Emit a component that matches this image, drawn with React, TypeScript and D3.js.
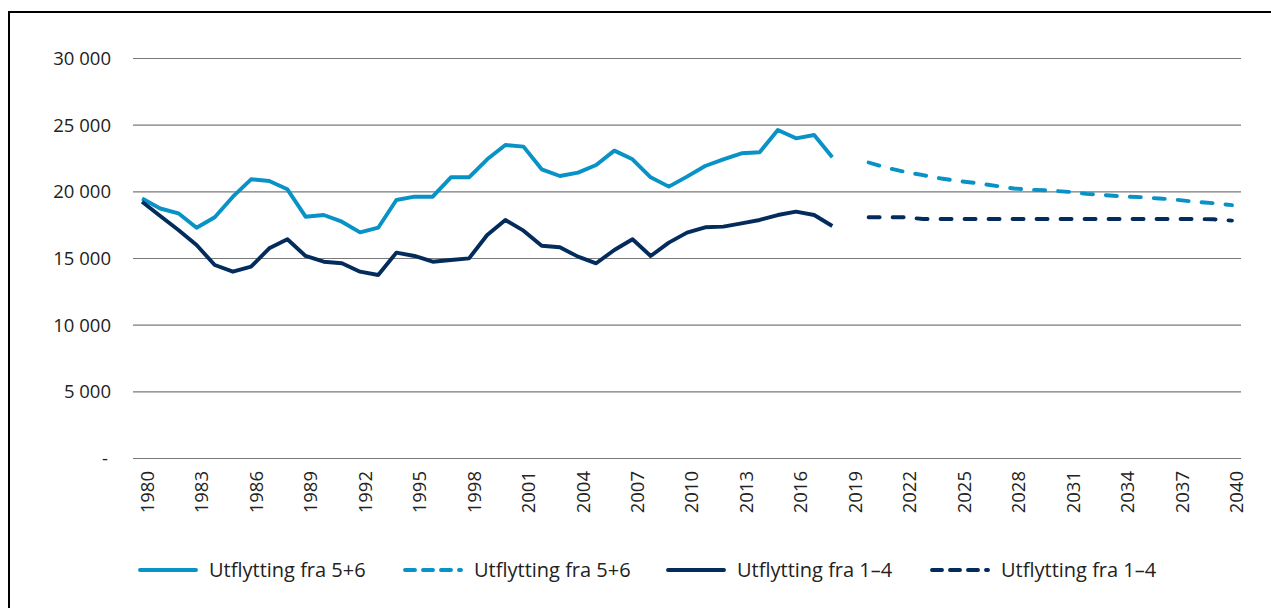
import React from "react";
import * as d3 from "d3";

const years: number[] = [
  1980, 1981, 1982, 1983, 1984, 1985, 1986, 1987, 1988, 1989, 1990, 1991, 1992, 1993, 1994, 1995,
  1996, 1997, 1998, 1999, 2000, 2001, 2002, 2003, 2004, 2005, 2006, 2007, 2008, 2009, 2010, 2011,
  2012, 2013, 2014, 2015, 2016, 2017, 2018, 2019, 2020, 2021, 2022, 2023, 2024, 2025, 2026, 2027,
  2028, 2029, 2030, 2031, 2032, 2033, 2034, 2035, 2036, 2037, 2038, 2039, 2040,
];

const histYears: number[] = [
  1980, 1981, 1982, 1983, 1984, 1985, 1986, 1987, 1988, 1989, 1990, 1991, 1992, 1993, 1994, 1995,
  1996, 1997, 1998, 1999, 2000, 2001, 2002, 2003, 2004, 2005, 2006, 2007, 2008, 2009, 2010, 2011,
  2012, 2013, 2014, 2015, 2016, 2017, 2018,
];

const hist56: number[] = [
  19500, 18750, 18390, 17310, 18090, 19635, 20940, 20810, 20190, 18135, 18260, 17760, 16960, 17310,
  19390, 19635, 19635, 21090, 21090, 22440, 23510, 23390, 21690, 21190, 21440, 22010, 23090, 22440,
  21090, 20390, 21140, 21940, 22440, 22890, 22965, 24640, 24015, 24260, 22590,
];

const hist14: number[] = [
  19260, 18190, 17140, 16010, 14510, 14010, 14390, 15760, 16440, 15190, 14760, 14640, 14010, 13760,
  15440, 15190, 14760, 14890, 15010, 16760, 17890, 17090, 15960, 15840, 15140, 14640, 15640, 16440,
  15190, 16190, 16940, 17340, 17390, 17640, 17890, 18260, 18510, 18260, 17440,
];

const projYears: number[] = [
  2020, 2021, 2022, 2023, 2024, 2025, 2026, 2027, 2028, 2029, 2030, 2031, 2032, 2033, 2034, 2035,
  2036, 2037, 2038, 2039, 2040,
];

const proj56: number[] = [
  22200, 21800, 21500, 21250, 21000, 20800, 20650, 20450, 20250, 20150, 20100, 20000, 19850, 19750,
  19650, 19600, 19500, 19400, 19250, 19150, 19000,
];

const proj14: number[] = [
  18090, 18090, 18090, 17960, 17960, 17960, 17960, 17960, 17960, 17960, 17960, 17960, 17960, 17960,
  17960, 17960, 17960, 17960, 17960, 17940, 17840,
];

const xTickYears: number[] = [
  1980, 1983, 1986, 1989, 1992, 1995, 1998, 2001, 2004, 2007, 2010, 2013, 2016, 2019, 2022, 2025,
  2028, 2031, 2034, 2037, 2040,
];

const yTicks: number[] = [0, 5000, 10000, 15000, 20000, 25000, 30000];
const yTickLabels: string[] = ["-", "5 000", "10 000", "15 000", "20 000", "25 000", "30 000"];

const legendLabels: string[] = [
  "Utflytting fra 5+6",
  "Utflytting fra 5+6",
  "Utflytting fra 1–4",
  "Utflytting fra 1–4",
];

const LIGHT = "#0892c6";
const DARK = "#032c5c";
const FONT = "'Open Sans', sans-serif";

export default function App() {
  const left = 133;
  const right = 1241;
  const top = 58.5;
  const bottom = 458.5;

  const x = d3.scaleBand<number>().domain(years).range([left, right]);
  const cx = (yr: number) => (x(yr) as number) + x.bandwidth() / 2;
  const y = d3.scaleLinear().domain([0, 30000]).range([bottom, top]);

  const line = d3
    .line<[number, number]>()
    .x((d) => cx(d[0]))
    .y((d) => y(d[1]));

  const series = [
    { xs: histYears, vs: hist56, color: LIGHT, dash: null },
    { xs: projYears, vs: proj56, color: LIGHT, dash: "11 13" },
    { xs: histYears, vs: hist14, color: DARK, dash: null },
    { xs: projYears, vs: proj14, color: DARK, dash: "11 13" },
  ];

  const legendX = [140, 405, 668, 932];
  const legendY = 570;

  return (
    <svg
      width={1271}
      height={608}
      style={{ position: "absolute", left: 0, top: 0, background: "#fff" }}
    >
      <rect x={0} y={0} width={1271} height={608} fill="#fff" />
      <rect x={9} y={12} width={1400} height={800} fill="none" stroke="#000" strokeWidth={2} />
      {yTicks.map((t, i) => (
        <g key={t}>
          <line x1={left} x2={right} y1={y(t)} y2={y(t)} stroke="#7a7a7a" strokeWidth={1.2} />
          <text
            x={i === 0 ? 108 : 111}
            y={y(t)}
            dy="0.35em"
            textAnchor="end"
            fontFamily={FONT}
            fontSize={18.5}
            fill="#222"
          >
            {yTickLabels[i]}
          </text>
        </g>
      ))}
      {xTickYears.map((yr) => (
        <text
          key={yr}
          transform={`translate(${cx(yr) + 5},${471}) rotate(-90)`}
          dy="0.35em"
          textAnchor="end"
          fontFamily={FONT}
          fontSize={18.5}
          fill="#222"
        >
          {yr}
        </text>
      ))}
      {series.map((s, i) => (
        <path
          key={i}
          d={line(s.xs.map((yr, j) => [yr, s.vs[j]] as [number, number])) || ""}
          fill="none"
          stroke={s.color}
          strokeWidth={3.9}
          strokeDasharray={s.dash || undefined}
          strokeLinecap={s.dash ? "round" : "butt"}
          strokeLinejoin="round"
        />
      ))}
      {legendLabels.map((lab, i) => (
        <g key={i}>
          <line
            x1={legendX[i]}
            x2={legendX[i] + 56}
            y1={legendY}
            y2={legendY}
            stroke={series[i].color}
            strokeWidth={3.9}
            strokeDasharray={series[i].dash ? "10 8" : undefined}
            strokeLinecap="round"
          />
          <text
            x={legendX[i] + 69}
            y={legendY}
            dy="0.35em"
            fontFamily={FONT}
            fontSize={20}
            fill="#222"
          >
            {lab}
          </text>
        </g>
      ))}
    </svg>
  );
}
